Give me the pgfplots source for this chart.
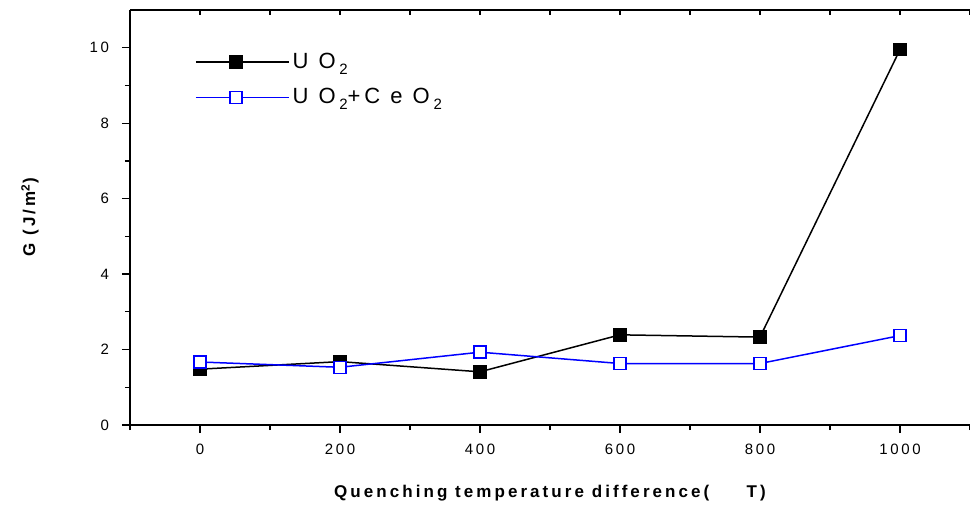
\documentclass[border=0pt]{standalone}
\usepackage{fontspec}
\setmainfont{Liberation Sans}
\newfontfamily\spaced[LetterSpace=18]{Liberation Sans}
\usepackage{pgfplots}
\pgfplotsset{compat=1.18}
\newcommand{\sub}[1]{\,\raisebox{-0.55ex}{\fontsize{7.5}{8}\selectfont #1}}

\begin{document}
\begin{tikzpicture}
\begin{axis}[
  name=main,
  scale only axis, width=420pt, height=207.5pt,
  xmin=-100, xmax=1100, ymin=0, ymax=11,
  axis x line*=bottom, axis y line*=left,
  tick align=outside,
  xtick={0,200,...,1000}, minor xtick={-100,100,...,1100},
  ytick={0,2,...,10}, minor ytick={1,3,...,9},
  major tick length=4pt, minor tick length=2.5pt,
  every tick/.style={black, line width=0.6pt},
  axis line style={line width=0.8pt},
  /pgf/number format/assume math mode=true,
  /pgf/number format/1000 sep={},
  ticklabel style={font=\spaced\fontsize{7.5}{9}\selectfont},
  xticklabel style={yshift=-2pt},
  yticklabel style={xshift=-3pt},
  xlabel={\bfseries\spaced\fontsize{8.5}{10}\selectfont Quenching temperature difference(\hspace{2.2em}T)},
  ylabel={\bfseries\spaced\fontsize{8.5}{10}\selectfont G (J/m\textsuperscript{2})},
  xlabel style={at={(axis description cs:0.5,0)}, anchor=center, yshift=-34pt},
  ylabel style={at={(axis description cs:0,0.5)}, anchor=center, yshift=50pt},
  legend cell align=left,
  legend style={draw=none, fill=none, at={(rel axis cs:0.077,0.905)}, anchor=north west,
    font=\spaced\fontsize{11}{12}\selectfont, row sep=5.5pt, inner sep=0pt,
    nodes={inner sep=1.5pt}},
  legend image code/.code={
    \draw[line width=0.75pt, mark repeat=2, mark phase=2] plot coordinates {(0pt,0pt) (20pt,0pt) (46.5pt,0pt)};},
  clip=false,
]
\addplot[black, line width=0.75pt, mark=square*, mark size=3pt,
  mark options={solid, fill=black}]
  coordinates {(0,1.48) (200,1.68) (400,1.41) (600,2.39) (800,2.33) (1000,9.95)};
\addlegendentry{U O\sub{2}}
\addplot[blue, line width=0.75pt, mark=square*, mark size=3pt,
  mark options={solid, fill=white, draw=blue}]
  coordinates {(0,1.67) (200,1.53) (400,1.93) (600,1.63) (800,1.63) (1000,2.37)};
\addlegendentry{U O\sub{2}+C e O\sub{2}}
\end{axis}
\begin{axis}[
  scale only axis, width=420pt, height=207.5pt,
  xmin=-100, xmax=1100, ymin=0, ymax=11,
  axis x line*=top, axis y line=none,
  tick align=inside,
  xtick={0,200,...,1000}, minor xtick={-100,100,...,1100},
  xticklabels={}, major tick length=2.5pt, minor tick length=2.5pt,
  every tick/.style={black, line width=0.6pt},
  axis line style={line width=0.8pt},
]
\end{axis}
\pgfresetboundingbox
\useasboundingbox ([shift={(-65pt,-42.5pt)}]main.south west) rectangle ([shift={(0pt,5pt)}]main.north east);
\end{tikzpicture}
\end{document}
